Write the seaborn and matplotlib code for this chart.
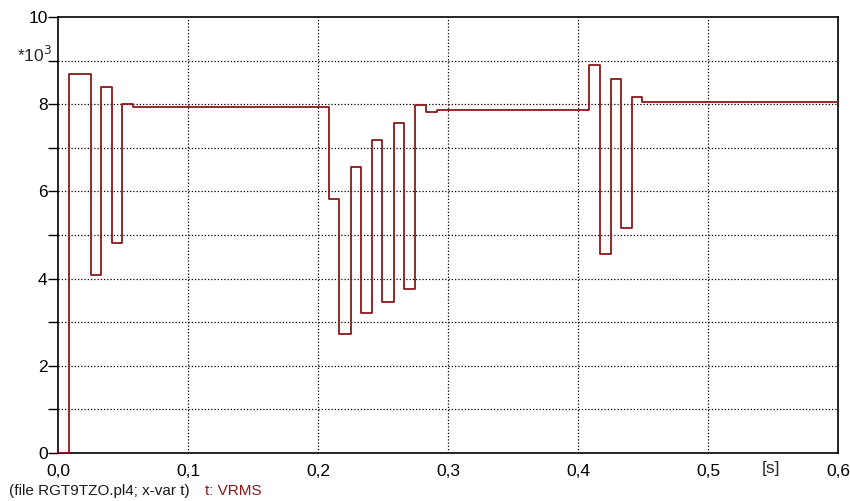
import matplotlib
matplotlib.use("Agg")
import matplotlib.pyplot as plt
from matplotlib.ticker import FuncFormatter, MultipleLocator
import numpy as np
import pandas as pd
import seaborn as sns

# Step-change instants (s) and the RMS voltage level (kV) held from each instant
t_breaks = [0.0, 0.0085, 0.0250, 0.0328, 0.0418, 0.0495, 0.0579, 0.2085,
            0.2164, 0.2254, 0.2328, 0.2418, 0.2495, 0.2582, 0.2662, 0.2749,
            0.2828, 0.2913, 0.4085, 0.4167, 0.4251, 0.4328, 0.4418, 0.4495, 0.6]
vrms_kv = [0.0, 8.70, 4.08, 8.39, 4.82, 8.01, 7.94, 5.82,
           2.74, 6.57, 3.20, 7.18, 3.46, 7.56, 3.76, 7.98,
           7.83, 7.87, 8.89, 4.56, 8.58, 5.17, 8.17, 8.06, 8.06]

x_ticks = [0.0, 0.1, 0.2, 0.3, 0.4, 0.5, 0.6]
y_ticks = [0, 2, 4, 6, 8, 10]

sns.set_style("white")
plt.rcParams["font.family"] = ["Liberation Sans", "DejaVu Sans"]

line_color = "#8b1a1a"

df = pd.DataFrame({"t": t_breaks, "v": vrms_kv})

fig = plt.figure(figsize=(8.5, 5.01), dpi=100)
ax = fig.add_axes([58 / 850, 48 / 501, 780 / 850, 436 / 501])

sns.lineplot(data=df, x="t", y="v", ax=ax, estimator=None, sort=False,
             drawstyle="steps-post", color=line_color, linewidth=1.3, zorder=3)

ax.set_xlim(0, 0.6)
ax.set_ylim(0, 10)
ax.set_xlabel("")
ax.set_ylabel("")

ax.set_xticks(x_ticks)
ax.xaxis.set_major_formatter(FuncFormatter(lambda x, _: f"{x:.1f}".replace(".", ",")))
ax.set_yticks(y_ticks)
ax.yaxis.set_minor_locator(MultipleLocator(1))
ax.yaxis.set_major_formatter(FuncFormatter(lambda y, _: f"{int(round(y))}"))

ax.tick_params(axis="x", which="major", direction="out", length=4, width=1,
               color="black", labelsize=12.5, labelcolor="black", pad=4)
ax.tick_params(axis="y", which="both", direction="out", length=7, width=1,
               color="black", labelsize=12.5, labelcolor="black", pad=0.5, left=True)

# dotted grid: every 0.1 s in time, every 1 kV in voltage
grid_style = dict(color="black", linestyle=(0, (1, 1.6)), linewidth=0.9, zorder=1)
for xv in x_ticks[1:-1]:
    ax.axvline(xv, **grid_style)
for yv in range(1, 10):
    ax.axhline(yv, **grid_style)

for sp in ax.spines.values():
    sp.set_visible(True)
    sp.set_color("black")
    sp.set_linewidth(1.2)

fig.text(17 / 850, 1 - 55 / 501, "*10$^3$", fontsize=12.5, ha="left", va="center")
fig.text(771 / 850, 1 - 468 / 501, "[s]", fontsize=12.5, ha="center", va="center")
fig.text(9 / 850, 1 - 491 / 501, "(file RGT9TZO.pl4; x-var t)", fontsize=11,
         ha="left", va="center", color="#1a1a1a")
fig.text(205 / 850, 1 - 491 / 501, "t: VRMS", fontsize=11,
         ha="left", va="center", color=line_color)

fig.savefig("out.png", dpi=100)
